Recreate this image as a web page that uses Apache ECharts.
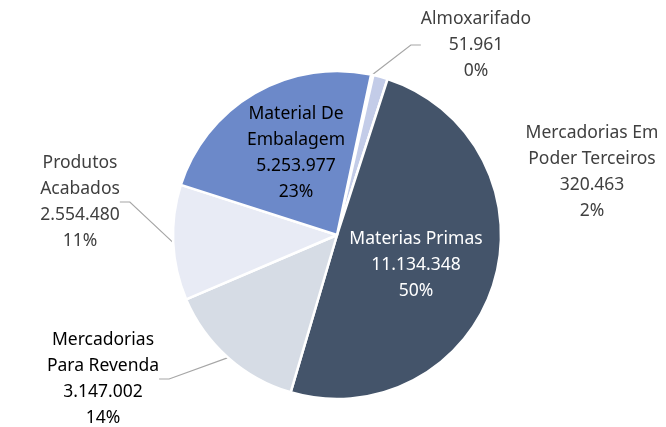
<!DOCTYPE html>
<html>
<head>
<meta charset="utf-8">
<script src="https://cdn.jsdelivr.net/npm/echarts@6/dist/echarts.min.js"></script>
<style>html,body{margin:0;padding:0;background:#fff}#c{width:666px;height:427px}</style>
</head>
<body>
<div id="c"></div>
<script>
const categories = ['Almoxarifado', 'Mercadorias Em\nPoder Terceiros', 'Materias Primas', 'Mercadorias\nPara Revenda', 'Produtos\nAcabados', 'Material De\nEmbalagem'];
const values = [51961, 320463, 11134348, 3147002, 2554480, 5253977];

const colors = ['#8FA3D0', '#C3CCE8', '#44546A', '#D6DCE5', '#E8EBF5', '#6C89C9'];
const labelPos = [
  {x: 476, y: 45},
  {x: 592, y: 172},
  {x: 416, y: 265},
  {x: 103, y: 379},
  {x: 80, y: 202},
  {x: 296, y: 153}
];
const labelColor = ['#404040', '#404040', '#ffffff', '#000000', '#404040', '#000000'];
const inside = [false, false, true, false, false, true];

function fmt(v) { return String(v).replace(/\B(?=(\d{3})+(?!\d))/g, '.'); }

const chart = echarts.init(document.getElementById('c'), null, {renderer: 'canvas'});
chart.setOption({
  animation: false,
  series: [{
    type: 'pie',
    center: [337, 235],
    radius: [0, 164],
    startAngle: 78,
    clockwise: true,
    percentPrecision: 0,
    avoidLabelOverlap: false,
    itemStyle: {borderColor: '#fff', borderWidth: 2.5},
    label: {
      fontFamily: 'Noto Sans',
      fontSize: 17.5,
      lineHeight: 26,
      align: 'center',
      formatter: p => p.name + '\n' + fmt(p.value) + '\n' + p.percent + '%'
    },
    labelLine: {lineStyle: {color: '#A6A6A6', width: 1.2}, length: 10, length2: 10},
    labelLayout: function (p) {
      const pos = labelPos[p.dataIndex];
      return {x: pos.x, y: pos.y, align: 'center', verticalAlign: 'middle'};
    },
    data: categories.map((c, i) => ({
      name: c,
      value: values[i],
      itemStyle: {color: colors[i]},
      label: {position: inside[i] ? 'inside' : 'outside', color: labelColor[i]},
      labelLine: {show: !inside[i] && i !== 1}
    }))
  }]
});
</script>
</body>
</html>
